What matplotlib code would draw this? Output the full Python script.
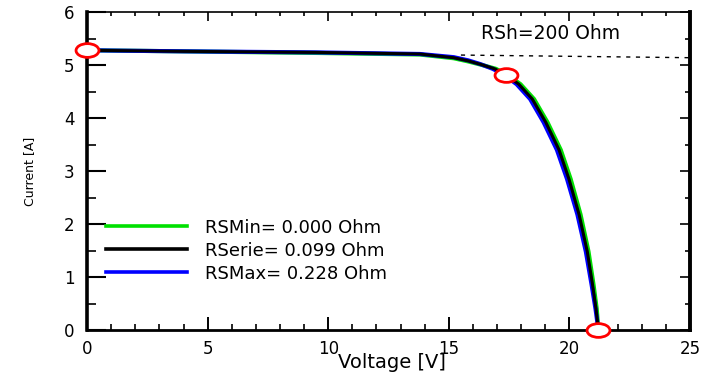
import matplotlib
matplotlib.use("Agg")
import matplotlib.pyplot as plt
import numpy as np
from matplotlib.path import Path
from matplotlib.transforms import Affine2D

# I-V curves
v_black = [0, 4, 9.5, 13.8, 15.2, 15.8, 16.35, 16.9, 17.36, 17.9, 18.46, 19.02, 19.57, 19.98, 20.4, 20.74, 20.96, 21.1, 21.2]
i_black = [5.28, 5.26, 5.24, 5.21, 5.14, 5.08, 5.01, 4.93, 4.82, 4.64, 4.36, 3.92, 3.40, 2.85, 2.18, 1.48, 0.85, 0.40, 0.0]

v_green = [0, 4, 9.5, 13.8, 15.2, 15.8, 16.4, 16.95, 17.42, 17.97, 18.53, 19.09, 19.64, 20.05, 20.46, 20.79, 21.0, 21.13, 21.2]
i_green = [5.28, 5.26, 5.23, 5.20, 5.13, 5.07, 5.00, 4.93, 4.82, 4.64, 4.36, 3.92, 3.40, 2.85, 2.18, 1.48, 0.85, 0.40, 0.0]

v_blue = [0, 4, 9.5, 13.8, 15.2, 15.8, 16.3, 16.82, 17.28, 17.81, 18.37, 18.93, 19.48, 19.9, 20.33, 20.68, 20.92, 21.08, 21.2]
i_blue = [5.28, 5.26, 5.24, 5.21, 5.15, 5.09, 5.02, 4.93, 4.82, 4.64, 4.36, 3.92, 3.40, 2.85, 2.18, 1.48, 0.85, 0.40, 0.0]

# shunt resistance line (dashed)
v_rsh = [15.5, 25]
i_rsh = [5.19, 5.14]

# red circles: Isc, MPP, Voc
v_pts = [0, 17.36, 21.17]
i_pts = [5.29, 4.82, 0.0]

labels = ["RSMin= 0.000 Ohm", "RSerie= 0.099 Ohm", "RSMax= 0.228 Ohm"]

fig = plt.figure(figsize=(7.02, 3.79), dpi=100)
ax = fig.add_axes([0.124, 0.129, 0.859, 0.839])
plt.rcParams['font.family'] = ['DejaVu Sans']

ax.plot(v_rsh, i_rsh, color="black", lw=1.0, ls=(0, (3, 4)))
ax.plot(v_green, i_green, color="#00e000", lw=3.0, label=labels[0])
ax.plot(v_blue, i_blue, color="#0000ff", lw=3.0, label=labels[2])
ax.plot(v_black, i_black, color="black", lw=2.2, label=labels[1])

ell = Path.unit_circle().transformed(Affine2D().scale(1, 0.6))
ax.plot(v_pts, i_pts, ls="none", marker=ell, ms=16.5, mfc="white", mec="#ff0000", mew=2.0,
        clip_on=False, zorder=5)

ax.text(16.35, 5.6, "RSh=200 Ohm", fontsize=13.5, va="center", ha="left")

h, l = ax.get_legend_handles_labels()
order = [0, 2, 1]
h = [h[k] for k in order]
l = [l[k] for k in order]
leg = ax.legend(h, l, loc="upper left", bbox_to_anchor=(0.0315, 0.35), frameon=False,
                fontsize=13, handlelength=4.5, handletextpad=1.0, labelspacing=0.27,
                borderpad=0, borderaxespad=0)
for line in leg.get_lines():
    line.set_linewidth(2.6)

ax.set_xlim(0, 25)
ax.set_ylim(0, 6)
ax.set_xticks(np.arange(0, 26, 5))
ax.set_xticks(np.arange(0, 26, 1), minor=True)
ax.set_yticks(np.arange(0, 7, 1))
ax.set_yticks(np.arange(0, 6.1, 0.5), minor=True)

ax.tick_params(axis="x", which="major", direction="in", length=9.5, width=1.4, labelsize=12, pad=7)
ax.tick_params(axis="x", which="minor", direction="in", length=4.5, width=1.2)
ax.tick_params(axis="y", which="major", direction="in", length=14, width=1.5, labelsize=12, pad=9)
ax.tick_params(axis="y", which="minor", direction="in", length=6.5, width=1.2)

top = ax.secondary_xaxis("top")
top.set_xticks(np.arange(0, 26, 5))
top.set_xticks(np.arange(0, 26, 1), minor=True)
top.tick_params(which="major", direction="in", length=6.5, width=1.2, labeltop=False)
top.tick_params(which="minor", direction="in", length=3, width=1.2)
right = ax.secondary_yaxis("right")
right.set_yticks(np.arange(0, 7, 1))
right.set_yticks(np.arange(0, 6.1, 0.5), minor=True)
right.tick_params(which="major", direction="in", length=7, width=1.2, labelright=False)
right.tick_params(which="minor", direction="in", length=3.5, width=1.2)
top.spines["top"].set_linewidth(1.2)
right.spines["right"].set_linewidth(2.8)

ax.spines["left"].set_linewidth(2.6)
ax.spines["bottom"].set_linewidth(2.0)
ax.spines["top"].set_visible(False)
ax.spines["right"].set_visible(False)

ax.set_xlabel("Voltage [V]", fontsize=14)
ax.set_ylabel("Current [A]", fontsize=9)
ax.xaxis.set_label_coords(0.506, -0.072)
ax.yaxis.set_label_coords(-0.085, 0.5)

fig.savefig("out.png", dpi=100)
